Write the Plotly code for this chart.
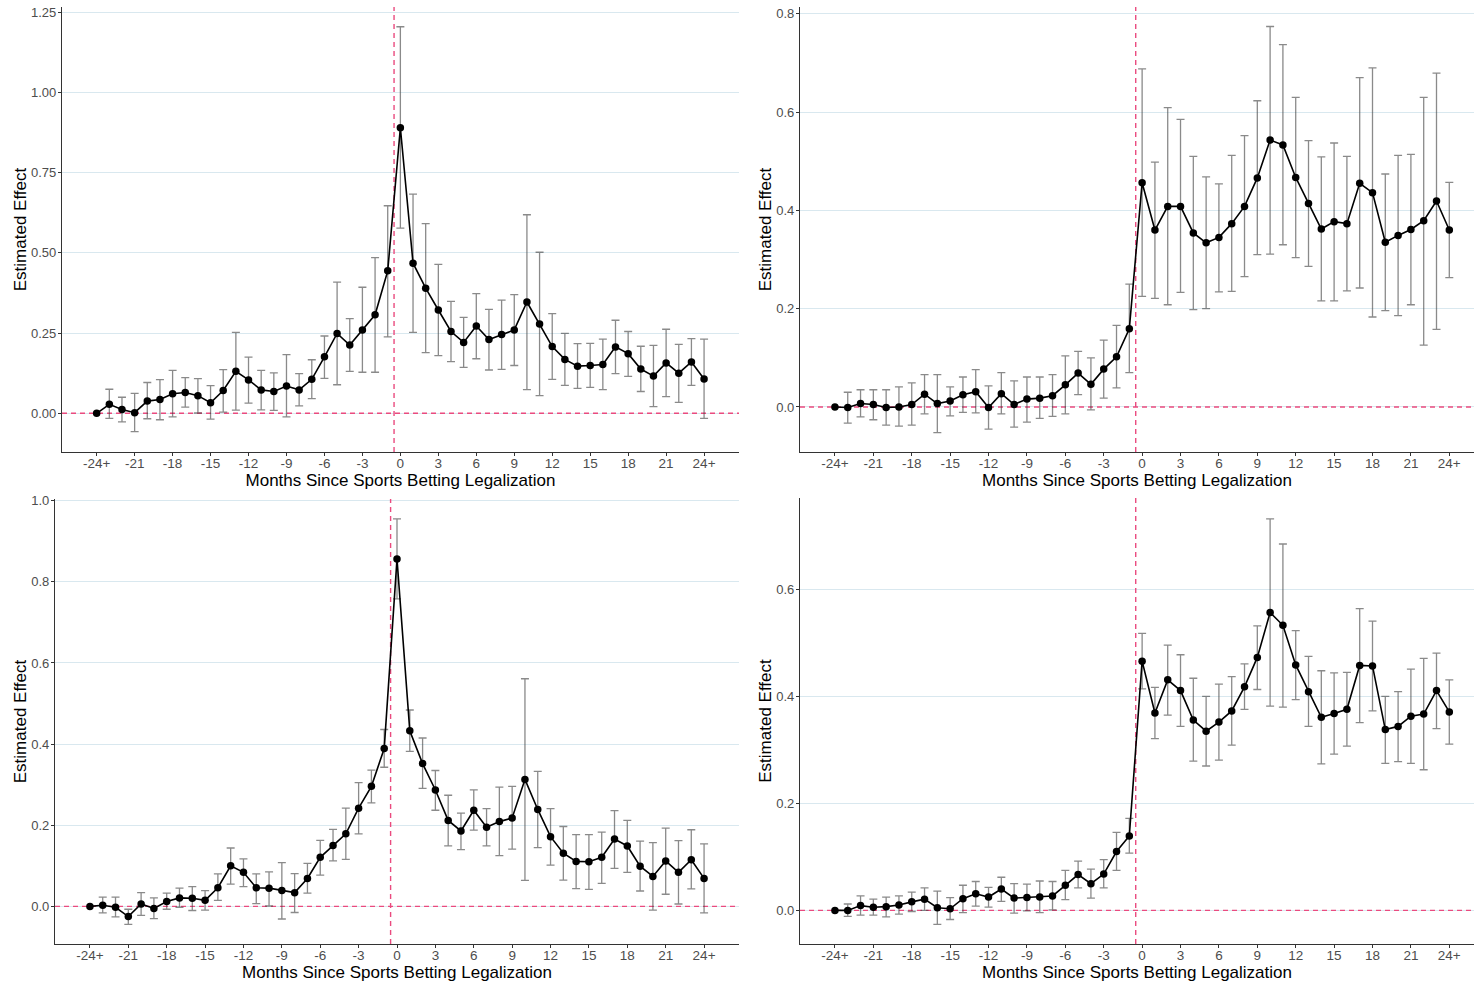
import plotly.graph_objects as go

months = list(range(-24, 25))
tick_vals = list(range(-24, 25, 3))
tick_text = ["-24+"] + [str(v) for v in range(-21, 24, 3)] + ["24+"]

# Panel A (top-left)
a_est = [0.000, 0.028, 0.012, 0.002, 0.038, 0.043, 0.061, 0.065, 0.055, 0.033, 0.071, 0.131,
         0.104, 0.073, 0.068, 0.085, 0.073, 0.106, 0.176, 0.249, 0.213, 0.260, 0.307, 0.444,
         0.890, 0.468, 0.390, 0.322, 0.255, 0.221, 0.272, 0.230, 0.246, 0.260, 0.347, 0.278,
         0.208, 0.168, 0.147, 0.149, 0.152, 0.207, 0.186, 0.138, 0.116, 0.157, 0.125, 0.160, 0.107]
a_hi = [None, 0.075, 0.050, 0.062, 0.096, 0.105, 0.134, 0.111, 0.108, 0.086, 0.136, 0.252,
        0.175, 0.134, 0.126, 0.183, 0.124, 0.167, 0.241, 0.409, 0.295, 0.393, 0.485, 0.647,
        1.205, 0.683, 0.591, 0.464, 0.349, 0.299, 0.373, 0.324, 0.353, 0.370, 0.619, 0.502,
        0.311, 0.249, 0.217, 0.218, 0.231, 0.290, 0.255, 0.209, 0.212, 0.262, 0.215, 0.233, 0.231]
a_lo = [None, -0.016, -0.027, -0.057, -0.017, -0.020, -0.011, 0.019, 0.001, -0.018, 0.004, 0.010,
        0.032, 0.011, 0.009, -0.011, 0.023, 0.046, 0.109, 0.089, 0.131, 0.128, 0.128, 0.238,
        0.577, 0.252, 0.189, 0.180, 0.161, 0.143, 0.170, 0.135, 0.137, 0.149, 0.074, 0.055,
        0.106, 0.087, 0.078, 0.081, 0.074, 0.124, 0.115, 0.068, 0.021, 0.052, 0.034, 0.087, -0.016]

# Panel B (top-right)
b_est = [0.000, -0.001, 0.007, 0.005, -0.001, 0.000, 0.005, 0.026, 0.007, 0.012, 0.025, 0.031,
         -0.001, 0.027, 0.005, 0.016, 0.018, 0.023, 0.045, 0.069, 0.046, 0.077, 0.102, 0.159,
         0.456, 0.360, 0.408, 0.408, 0.354, 0.334, 0.345, 0.373, 0.408, 0.466, 0.543, 0.533,
         0.467, 0.414, 0.362, 0.377, 0.373, 0.455, 0.436, 0.335, 0.349, 0.361, 0.379, 0.419, 0.360]
b_hi = [None, 0.030, 0.035, 0.035, 0.035, 0.041, 0.049, 0.066, 0.066, 0.041, 0.061, 0.076,
        0.043, 0.070, 0.053, 0.061, 0.061, 0.066, 0.104, 0.113, 0.100, 0.136, 0.166, 0.250,
        0.688, 0.498, 0.609, 0.585, 0.510, 0.468, 0.454, 0.512, 0.552, 0.623, 0.774, 0.737,
        0.630, 0.542, 0.509, 0.537, 0.510, 0.670, 0.690, 0.474, 0.512, 0.514, 0.630, 0.679, 0.457]
b_lo = [None, -0.033, -0.020, -0.026, -0.037, -0.039, -0.037, -0.014, -0.052, -0.018, -0.011, -0.012,
        -0.045, -0.014, -0.041, -0.031, -0.023, -0.019, -0.014, 0.025, -0.006, 0.018, 0.039, 0.070,
        0.225, 0.221, 0.208, 0.233, 0.198, 0.200, 0.234, 0.235, 0.265, 0.310, 0.311, 0.330,
        0.304, 0.286, 0.216, 0.216, 0.236, 0.242, 0.183, 0.196, 0.186, 0.208, 0.126, 0.158, 0.263]

# Panel C (bottom-left)
c_est = [0.000, 0.003, -0.002, -0.025, 0.006, -0.005, 0.012, 0.021, 0.020, 0.015, 0.046, 0.100,
         0.084, 0.046, 0.045, 0.039, 0.034, 0.069, 0.121, 0.150, 0.179, 0.242, 0.296, 0.389,
         0.856, 0.433, 0.352, 0.287, 0.212, 0.186, 0.237, 0.195, 0.209, 0.218, 0.313, 0.239,
         0.172, 0.131, 0.111, 0.110, 0.121, 0.166, 0.149, 0.099, 0.074, 0.112, 0.084, 0.115, 0.069]
c_hi = [None, 0.023, 0.023, -0.007, 0.034, 0.021, 0.033, 0.045, 0.049, 0.039, 0.080, 0.144,
        0.117, 0.080, 0.085, 0.108, 0.081, 0.106, 0.163, 0.190, 0.242, 0.305, 0.336, 0.436,
        0.955, 0.484, 0.415, 0.335, 0.274, 0.230, 0.287, 0.241, 0.294, 0.296, 0.561, 0.333,
        0.241, 0.197, 0.177, 0.177, 0.183, 0.236, 0.212, 0.161, 0.157, 0.193, 0.162, 0.189, 0.154]
c_lo = [None, -0.016, -0.026, -0.044, -0.022, -0.030, -0.007, -0.002, -0.010, -0.009, 0.015, 0.055,
        0.049, 0.007, 0.001, -0.031, -0.015, 0.033, 0.077, 0.112, 0.116, 0.179, 0.255, 0.343,
        0.758, 0.382, 0.291, 0.237, 0.149, 0.140, 0.188, 0.149, 0.125, 0.141, 0.064, 0.145,
        0.102, 0.065, 0.044, 0.042, 0.057, 0.094, 0.084, 0.038, -0.009, 0.030, 0.006, 0.043, -0.016]

# Panel D (bottom-right)
d_est = [0.000, 0.000, 0.009, 0.006, 0.007, 0.010, 0.016, 0.021, 0.005, 0.003, 0.022, 0.031,
         0.025, 0.040, 0.023, 0.024, 0.025, 0.027, 0.047, 0.067, 0.050, 0.068, 0.110, 0.139,
         0.466, 0.369, 0.431, 0.411, 0.356, 0.335, 0.352, 0.373, 0.418, 0.473, 0.557, 0.533,
         0.459, 0.409, 0.361, 0.368, 0.376, 0.458, 0.457, 0.338, 0.344, 0.363, 0.367, 0.411, 0.371]
d_hi = [None, 0.012, 0.027, 0.021, 0.025, 0.027, 0.034, 0.042, 0.036, 0.024, 0.047, 0.054,
        0.043, 0.062, 0.050, 0.049, 0.055, 0.054, 0.075, 0.092, 0.077, 0.095, 0.146, 0.172,
        0.518, 0.417, 0.496, 0.478, 0.434, 0.400, 0.423, 0.437, 0.461, 0.532, 0.732, 0.685,
        0.523, 0.475, 0.448, 0.444, 0.445, 0.564, 0.541, 0.400, 0.409, 0.451, 0.471, 0.481, 0.431]
d_lo = [None, -0.011, -0.009, -0.009, -0.012, -0.007, -0.002, 0.000, -0.026, -0.017, -0.004, 0.008,
        0.006, 0.017, -0.005, -0.001, -0.004, 0.001, 0.020, 0.042, 0.023, 0.042, 0.075, 0.107,
        0.414, 0.321, 0.365, 0.344, 0.279, 0.270, 0.281, 0.309, 0.376, 0.413, 0.382, 0.380,
        0.394, 0.344, 0.274, 0.292, 0.307, 0.351, 0.373, 0.275, 0.278, 0.275, 0.263, 0.340, 0.311]

W, H = 1474, 984
panels = [
    dict(est=a_est, lo=a_lo, hi=a_hi, px=(62, 739), py=(7, 452), xr=[-26.74, 26.76], yr=[-0.1206, 1.2665],
         yt=[0, 0.25, 0.5, 0.75, 1.0, 1.25], yfmt=".2f"),
    dict(est=b_est, lo=b_lo, hi=b_hi, px=(800, 1474), py=(7, 452), xr=[-26.73, 25.93], yr=[-0.0916, 0.8137],
         yt=[0, 0.2, 0.4, 0.6, 0.8], yfmt=".1f"),
    dict(est=c_est, lo=c_lo, hi=c_hi, px=(55, 739), py=(499, 944), xr=[-26.73, 26.73], yr=[-0.0926, 1.004],
         yt=[0, 0.2, 0.4, 0.6, 0.8, 1.0], yfmt=".1f"),
    dict(est=d_est, lo=d_lo, hi=d_hi, px=(800, 1474), py=(498, 944), xr=[-26.73, 25.93], yr=[-0.0628, 0.771],
         yt=[0, 0.2, 0.4, 0.6], yfmt=".1f"),
]

FONT = "Liberation Sans, Arial, sans-serif"
TICKC = "#4d4d4d"
AXC = "#333333"
PINK = "#ea4b7f"


def fx(v):
    return max(0.0, min(1.0, v / W))


def fy(v):
    return max(0.0, min(1.0, 1 - v / H))


fig = go.Figure()
layout = dict(width=W, height=H, margin=dict(l=0, r=0, t=0, b=0, autoexpand=False), paper_bgcolor="white",
              plot_bgcolor="white", showlegend=False, font=dict(family=FONT, color="black"))
shapes = []
for i, p in enumerate(panels, start=1):
    sfx = "" if i == 1 else str(i)
    xa, ya = "x" + sfx, "y" + sfx
    em = [m for m, h in zip(months, p["hi"]) if h is not None]
    ee = [e for e, h in zip(p["est"], p["hi"]) if h is not None]
    up = [h - e for e, h in zip(p["est"], p["hi"]) if h is not None]
    dn = [e - l for e, l in zip(p["est"], p["lo"]) if l is not None]
    fig.add_trace(go.Scatter(
        x=em, y=ee, mode="markers", xaxis=xa, yaxis=ya,
        marker=dict(size=1, color="rgba(0,0,0,0)"),
        error_y=dict(type="data", symmetric=False, array=up, arrayminus=dn,
                     color="rgba(60,60,60,0.6)", thickness=1.3, width=4),
        hoverinfo="skip"))
    fig.add_trace(go.Scatter(
        x=months, y=p["est"], mode="lines+markers", xaxis=xa, yaxis=ya,
        line=dict(color="black", width=1.6),
        marker=dict(size=7.5, color="black")))
    layout["xaxis" + sfx] = dict(
        domain=[fx(p["px"][0]), fx(p["px"][1])], anchor=ya, range=p["xr"], automargin=False,
        tickmode="array", tickvals=tick_vals, ticktext=tick_text,
        showgrid=False, zeroline=False, showline=True, linecolor=AXC, linewidth=1.2,
        ticks="outside", ticklen=3, tickcolor=AXC, tickwidth=1, ticklabelstandoff=-4,
        ticklabeloverflow="allow",
        tickfont=dict(family=FONT, size=13.5, color=TICKC),
        title=dict(text="Months Since Sports Betting Legalization",
                   font=dict(family=FONT, size=17, color="black"), standoff=0))
    layout["yaxis" + sfx] = dict(
        domain=[fy(p["py"][1]), fy(p["py"][0])], anchor=xa, range=p["yr"], automargin=False,
        tickmode="array", tickvals=p["yt"], tickformat=p["yfmt"],
        showgrid=True, gridcolor="#d9e8ef", gridwidth=1, zeroline=False,
        showline=True, linecolor=AXC, linewidth=1.2,
        ticks="outside", ticklen=3, tickcolor=AXC, tickwidth=1, ticklabelstandoff=-1,
        ticklabeloverflow="allow",
        tickfont=dict(family=FONT, size=13, color=TICKC),
        title=dict(text="Estimated Effect", font=dict(family=FONT, size=17, color="black"), standoff=0))
    shapes.append(dict(type="line", xref=xa, yref=ya,
                       x0=p["xr"][0], x1=p["xr"][1], y0=0, y1=0, layer="between",
                       line=dict(color=PINK, width=1.4, dash="5px,4px")))
    shapes.append(dict(type="line", xref=xa, yref=ya,
                       x0=-0.5, x1=-0.5, y0=p["yr"][0], y1=p["yr"][1], layer="between",
                       line=dict(color=PINK, width=1.4, dash="5px,4px")))
layout["shapes"] = shapes
fig.update_layout(**layout)
fig.write_html("out.html", config={"displayModeBar": False},
               post_script="document.body.style.margin='0';document.body.style.overflow='hidden';")
